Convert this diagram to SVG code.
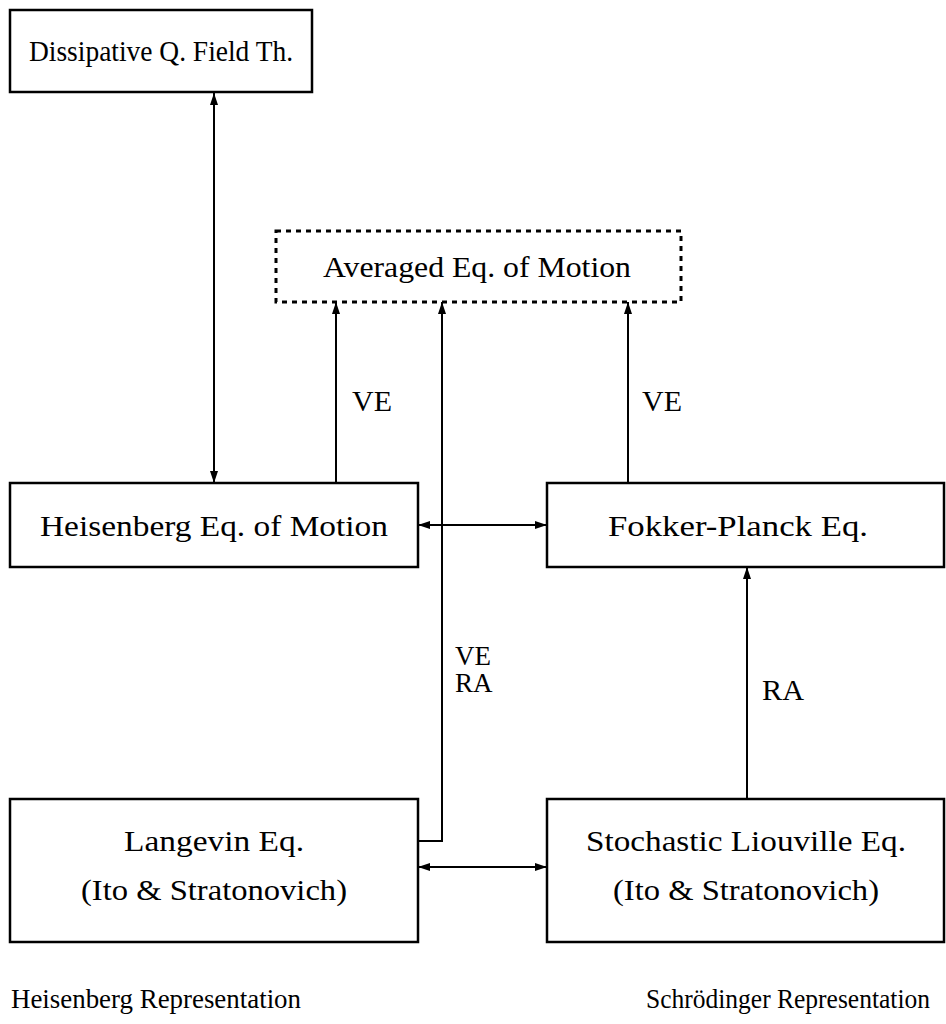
<svg xmlns="http://www.w3.org/2000/svg" width="946" height="1024" viewBox="0 0 946 1024">
<defs>
<marker id="ah" viewBox="0 0 12 8" refX="12" refY="4" markerWidth="12" markerHeight="8" markerUnits="userSpaceOnUse" orient="auto-start-reverse">
<path d="M0,0 L12,4 L0,8 Z" fill="#000"/>
</marker>
<style>
.box{fill:#fff;stroke:#000;stroke-width:2.5}
.dash{fill:#fff;stroke:#000;stroke-width:3;stroke-dasharray:5 5}
.c{fill:none;stroke:#000;stroke-width:2}
text{font-family:"Liberation Serif","DejaVu Serif",serif;font-size:30px;fill:#000}
.m{text-anchor:middle}
.b{font-size:27px}
.s{font-size:27px}
</style>
</defs>
<rect width="946" height="1024" fill="#fff"/>
<g id="connectors">
<line class="c" x1="214" y1="93" x2="214" y2="483" marker-start="url(#ah)" marker-end="url(#ah)"/>
<line class="c" x1="336" y1="483" x2="336" y2="302" marker-end="url(#ah)"/>
<line class="c" x1="628" y1="483" x2="628" y2="302" marker-end="url(#ah)"/>
<path class="c" d="M418,841 H442 V302" marker-end="url(#ah)"/>
<line class="c" x1="418" y1="525" x2="547" y2="525" marker-start="url(#ah)" marker-end="url(#ah)"/>
<line class="c" x1="747" y1="799" x2="747" y2="567" marker-end="url(#ah)"/>
<line class="c" x1="418" y1="867" x2="547" y2="867" marker-start="url(#ah)" marker-end="url(#ah)"/>
<text x="352" y="411" textLength="40" lengthAdjust="spacingAndGlyphs">VE</text>
<text x="642" y="411" textLength="40" lengthAdjust="spacingAndGlyphs">VE</text>
<text class="s"><tspan x="455" y="665">VE</tspan><tspan x="455" y="692">RA</tspan></text>
<text x="762" y="700" textLength="42" lengthAdjust="spacingAndGlyphs">RA</text>
</g>
<g id="dissipative">
<rect class="box" x="10" y="10" width="302" height="82"/>
<text class="m" x="161" y="61" textLength="264" lengthAdjust="spacingAndGlyphs">Dissipative Q. Field Th.</text>
</g>
<g id="averaged">
<rect class="dash" x="276" y="231" width="405" height="71"/>
<text class="m" x="477" y="277" textLength="308" lengthAdjust="spacingAndGlyphs">Averaged Eq. of Motion</text>
</g>
<g id="heisenberg">
<rect class="box" x="10" y="483" width="408" height="84"/>
<text class="m" x="214" y="536" textLength="348" lengthAdjust="spacingAndGlyphs">Heisenberg Eq. of Motion</text>
</g>
<g id="fokker">
<rect class="box" x="547" y="483" width="397" height="84"/>
<text class="m" x="738" y="536" textLength="260" lengthAdjust="spacingAndGlyphs">Fokker-Planck Eq.</text>
</g>
<g id="langevin">
<rect class="box" x="10" y="799" width="408" height="143"/>
<text class="m" x="214" y="851" textLength="180" lengthAdjust="spacingAndGlyphs">Langevin Eq.</text>
<text class="m" x="214" y="900" textLength="266" lengthAdjust="spacingAndGlyphs">(Ito &amp; Stratonovich)</text>
</g>
<g id="stochastic">
<rect class="box" x="547" y="799" width="397" height="143"/>
<text class="m" x="746" y="851" textLength="320" lengthAdjust="spacingAndGlyphs">Stochastic Liouville Eq.</text>
<text class="m" x="746" y="900" textLength="266" lengthAdjust="spacingAndGlyphs">(Ito &amp; Stratonovich)</text>
</g>
<g id="labels">
<text class="m b" x="156" y="1008" textLength="290" lengthAdjust="spacingAndGlyphs">Heisenberg Representation</text>
<text class="m b" x="788" y="1008" textLength="284" lengthAdjust="spacingAndGlyphs">Schrödinger Representation</text>
</g>
</svg>
